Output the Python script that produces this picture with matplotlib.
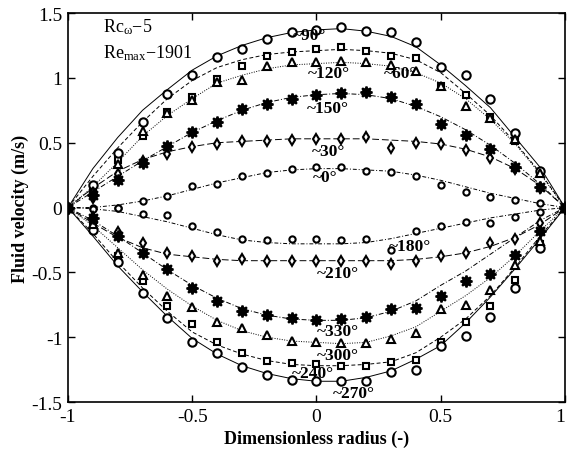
import numpy as np
import matplotlib
matplotlib.use('Agg')
import matplotlib.pyplot as plt

plt.rcParams['font.family'] = ['Liberation Serif', 'DejaVu Serif']
plt.rcParams['mathtext.fontset'] = 'custom'
plt.rcParams['mathtext.rm'] = 'Liberation Serif'
plt.rcParams['mathtext.it'] = 'Liberation Serif:italic'
plt.rcParams['mathtext.bf'] = 'Liberation Serif:bold'
plt.rcParams['axes.unicode_minus'] = False

# radial positions of the measurement points (dimensionless)
radius = [-1.0, -0.9, -0.8, -0.7, -0.6, -0.5, -0.4, -0.3, -0.2, -0.1, 0.0,
          0.1, 0.2, 0.3, 0.4, 0.5, 0.6, 0.7, 0.8, 0.9, 1.0]

# measured velocity (m/s) per phase angle
u_0 = [0, 0.0, 0.0, 0.05, 0.09, 0.165, 0.18, 0.245, 0.27, 0.30, 0.31,
       0.315, 0.28, 0.275, 0.245, 0.175, 0.12, 0.085, 0.06, 0.035, 0]
u_30 = [0, 0.07, 0.26, 0.36, 0.41, 0.47, 0.49, 0.515, 0.515, 0.52, 0.53,
        0.53, 0.545, 0.46, 0.50, 0.49, 0.445, 0.38, 0.30, 0.15, 0]
u_60 = [0, 0.15, 0.37, 0.55, 0.74, 0.85, 0.99, 1.09, 1.17, 1.20, 1.22,
        1.24, 1.21, 1.17, 1.15, 0.94, 0.87, 0.70, 0.515, 0.27, 0]
u_90 = [0, 0.17, 0.42, 0.66, 0.875, 1.02, 1.16, 1.22, 1.30, 1.35, 1.37,
        1.39, 1.36, 1.35, 1.28, 1.085, 1.02, 0.84, 0.575, 0.28, 0]
u_120 = [0, 0.13, 0.335, 0.59, 0.73, 0.83, 0.97, 0.985, 1.09, 1.12, 1.125,
         1.13, 1.12, 1.10, 1.05, 0.94, 0.785, 0.69, 0.53, 0.27, 0]
u_150 = [0, 0.10, 0.21, 0.34, 0.475, 0.58, 0.66, 0.76, 0.80, 0.84, 0.87,
         0.88, 0.89, 0.85, 0.80, 0.645, 0.56, 0.455, 0.31, 0.155, 0]
u_180 = [0, -0.01, 0.0, -0.05, -0.06, -0.145, -0.19, -0.243, -0.25, -0.24, -0.24,
         -0.25, -0.24, -0.325, -0.18, -0.145, -0.11, -0.12, -0.076, -0.037, 0]
u_210 = [0, -0.07, -0.19, -0.27, -0.35, -0.377, -0.41, -0.40, -0.41, -0.41, -0.41,
         -0.41, -0.41, -0.436, -0.41, -0.377, -0.35, -0.276, -0.243, -0.12, 0]
u_240 = [0, -0.15, -0.37, -0.565, -0.76, -0.90, -1.04, -1.125, -1.18, -1.20, -1.21,
         -1.22, -1.22, -1.194, -1.173, -1.04, -0.88, -0.757, -0.559, -0.28, 0]
u_270 = [0, -0.17, -0.42, -0.66, -0.85, -1.035, -1.12, -1.23, -1.29, -1.33, -1.335,
         -1.335, -1.335, -1.27, -1.25, -1.065, -0.99, -0.847, -0.623, -0.315, 0]
u_300 = [0, -0.13, -0.35, -0.52, -0.68, -0.77, -0.886, -0.93, -0.98, -1.03, -1.04,
         -1.045, -1.045, -1.014, -0.968, -0.78, -0.752, -0.634, -0.443, -0.256, 0]
u_330 = [0, -0.08, -0.22, -0.35, -0.475, -0.62, -0.72, -0.80, -0.83, -0.85, -0.865,
         -0.86, -0.847, -0.78, -0.778, -0.68, -0.57, -0.513, -0.366, -0.18, 0]

# fitted profiles on the same radial grid
fit_0 = [0, 0.0, 0.02, 0.05, 0.09, 0.14, 0.19, 0.23, 0.27, 0.29, 0.30,
         0.30, 0.29, 0.28, 0.25, 0.21, 0.16, 0.11, 0.07, 0.03, 0]
fit_30 = [0, 0.15, 0.28, 0.37, 0.43, 0.47, 0.50, 0.51, 0.52, 0.53, 0.53,
          0.53, 0.53, 0.52, 0.51, 0.49, 0.45, 0.39, 0.30, 0.17, 0]
fit_60 = [0, 0.24, 0.46, 0.66, 0.84, 0.98, 1.08, 1.14, 1.18, 1.20, 1.21,
          1.22, 1.21, 1.19, 1.14, 1.04, 0.88, 0.71, 0.50, 0.27, 0]
fit_90 = [0, 0.30, 0.54, 0.75, 0.91, 1.06, 1.17, 1.25, 1.31, 1.35, 1.37,
          1.38, 1.36, 1.32, 1.24, 1.10, 0.94, 0.77, 0.54, 0.31, 0]
fit_120 = [0, 0.16, 0.35, 0.55, 0.71, 0.84, 0.96, 1.02, 1.07, 1.10, 1.11,
           1.12, 1.11, 1.09, 1.04, 0.96, 0.84, 0.68, 0.49, 0.26, 0]
fit_150 = [0, 0.12, 0.24, 0.36, 0.47, 0.58, 0.67, 0.75, 0.81, 0.85, 0.87,
           0.88, 0.87, 0.84, 0.78, 0.70, 0.60, 0.48, 0.34, 0.18, 0]
fit_180 = [0, -0.01, -0.03, -0.07, -0.11, -0.16, -0.21, -0.25, -0.27, -0.28, -0.28,
           -0.28, -0.27, -0.24, -0.20, -0.16, -0.12, -0.08, -0.05, -0.02, 0]
fit_210 = [0, -0.12, -0.23, -0.31, -0.36, -0.38, -0.40, -0.41, -0.41, -0.41, -0.41,
           -0.41, -0.41, -0.41, -0.40, -0.38, -0.35, -0.30, -0.23, -0.13, 0]
fit_240 = [0, -0.20, -0.42, -0.62, -0.80, -0.96, -1.06, -1.13, -1.18, -1.21, -1.22,
           -1.22, -1.21, -1.19, -1.12, -1.00, -0.86, -0.68, -0.46, -0.22, 0]
fit_270 = [0, -0.22, -0.45, -0.65, -0.84, -1.01, -1.13, -1.22, -1.28, -1.32, -1.34,
           -1.34, -1.31, -1.26, -1.17, -1.065, -0.89, -0.69, -0.47, -0.24, 0]
fit_300 = [0, -0.14, -0.31, -0.48, -0.63, -0.76, -0.87, -0.95, -1.00, -1.03, -1.04,
           -1.05, -1.04, -0.99, -0.92, -0.80, -0.68, -0.54, -0.37, -0.18, 0]
fit_330 = [0, -0.10, -0.22, -0.35, -0.48, -0.60, -0.70, -0.78, -0.83, -0.86, -0.87,
           -0.87, -0.85, -0.80, -0.72, -0.60, -0.49, -0.36, -0.23, -0.10, 0]

# phase label text and where it sits (r, u)
phase_labels = ['~0°', '~30°', '~60°', '~90°', '~120°', '~150°',
                '~180°', '~210°', '~240°', '~270°', '~300°', '~330°']
label_r = [0.036, 0.048, 0.34, -0.028, 0.052, 0.044,
           0.378, 0.085, -0.016, 0.149, 0.085, 0.085]
label_u = [0.235, 0.435, 1.037, 1.33, 1.037, 0.767,
           -0.30, -0.505, -1.28, -1.43, -1.137, -0.955]

measured = [u_0, u_30, u_60, u_90, u_120, u_150,
            u_180, u_210, u_240, u_270, u_300, u_330]
fitted = [fit_0, fit_30, fit_60, fit_90, fit_120, fit_150,
          fit_180, fit_210, fit_240, fit_270, fit_300, fit_330]

# marker / line style shared by angles 180 deg apart
star8 = (8, 1, 0)
styles = [
    dict(marker='o', ms=4.5, mfc='white', ls=(0, (4, 2, 1, 2))),
    dict(marker='d', ms=5.5, mfc='white', ls=(0, (7, 3))),
    dict(marker='s', ms=5, mfc='white', ls=(0, (4, 2.5))),
    dict(marker='o', ms=6, mfc='white', ls='-'),
    dict(marker='^', ms=5.5, mfc='white', ls=(0, (1, 1.5))),
    dict(marker=star8, ms=8.5, mfc='black', ls=(0, (5, 2, 1, 2))),
]

fig = plt.figure(figsize=(5.68, 4.56), dpi=100)
ax = fig.add_axes([0.1197, 0.1162, 0.875, 0.853])

for i in range(12):
    st = styles[i % 6]
    ax.plot(radius, fitted[i], color='black', lw=0.7, ls=st['ls'], zorder=2)
    ax.plot(radius, measured[i], ls='none', marker=st['marker'], ms=st['ms'],
            mfc=st['mfc'], mec='black', mew=1.5, zorder=3)

for txt, r, u in zip(phase_labels, label_r, label_u):
    ax.text(r, u, txt, fontsize=12.5, fontweight='bold', ha='center', va='center', zorder=4)

ax.text(-0.86, 1.40, r'Rc$_{\mathrm{\omega}}$−5', fontsize=13, ha='left', va='center')
ax.text(-0.86, 1.20, r'Re$_{\mathrm{max}}$−1901', fontsize=13, ha='left', va='center')

ax.set_xlim(-1, 1)
ax.set_ylim(-1.5, 1.5)
ax.set_xticks([-1, -0.5, 0, 0.5, 1])
ax.set_xticklabels(['-1', '-0.5', '0', '0.5', '1'])
ax.set_yticks([-1.5, -1, -0.5, 0, 0.5, 1, 1.5])
ax.set_yticklabels(['-1.5', '-1', '-0.5', '0', '0.5', '1', '1.5'])
ax.tick_params(direction='in', top=True, right=True, length=5, width=1, labelsize=14, pad=4)
# keep the last radius label inside the canvas
ax.get_xticklabels()[-1].set_horizontalalignment('right')
for sp in ax.spines.values():
    sp.set_linewidth(1.2)

ax.set_xlabel('Dimensionless radius (-)', fontsize=13, fontweight='bold', labelpad=4)
ax.set_ylabel('Fluid velocity (m/s)', fontsize=13, fontweight='bold', labelpad=2)

fig.savefig('out.png', dpi=100)
